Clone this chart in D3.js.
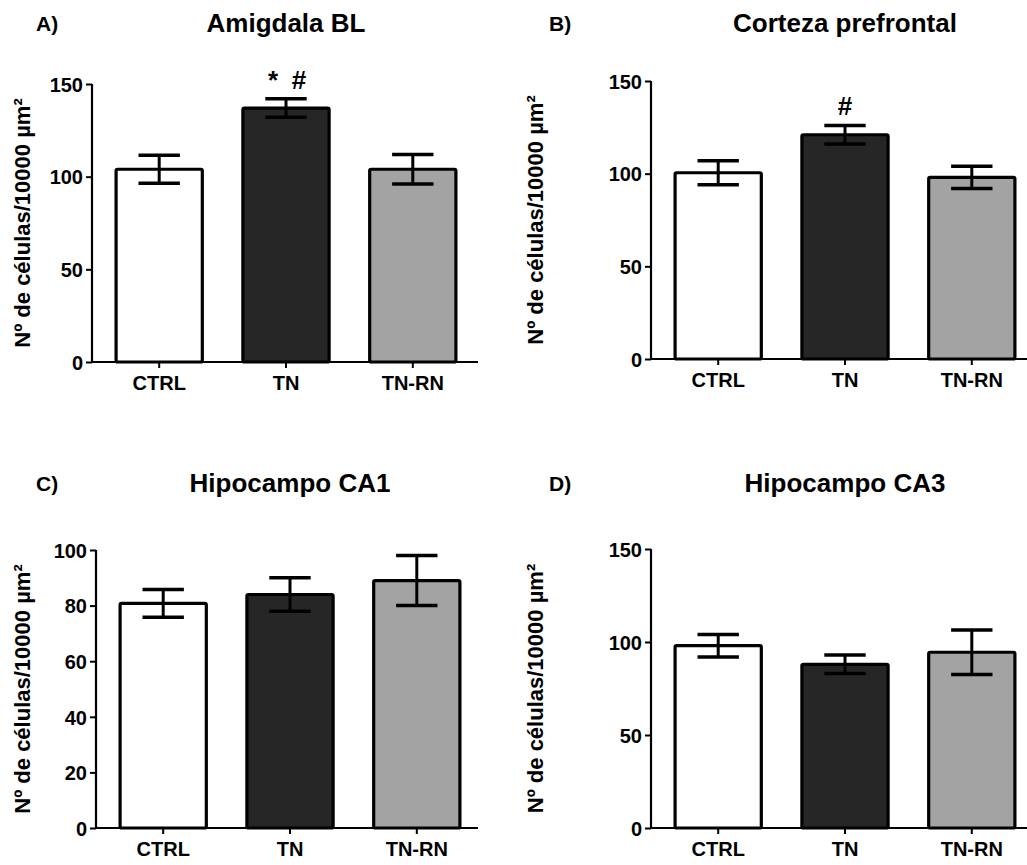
<!DOCTYPE html>
<html>
<head>
<meta charset="utf-8">
<script src="https://cdn.jsdelivr.net/npm/d3@7"></script>
<style>
  body { margin: 0; background: #fff; }
  svg text { font-family: "Liberation Sans", Arial, sans-serif; font-weight: bold; fill: #000; }
</style>
</head>
<body>
<div id="chart"></div>
<script>
// groups shared by all four panels
var groups = ["CTRL", "TN", "TN-RN"];
var groupFill = ["#ffffff", "#262626", "#a3a3a3"];

var panelLetters = ["A)", "B)", "C)", "D)"];
var panelTitles = ["Amigdala BL", "Corteza prefrontal", "Hipocampo CA1", "Hipocampo CA3"];

// mean values per panel (CTRL, TN, TN-RN)
var meansA = [104, 137, 104];
var meansB = [100.5, 121, 98];
var meansC = [80.8, 84, 89];
var meansD = [98, 88, 94.5];

// standard error per panel
var errA = [7.5, 5, 8];
var errB = [6.5, 5, 6];
var errC = [5, 6, 9];
var errD = [6, 5, 12];

// y axis maxima and tick values
var yMaxes = [150, 150, 100, 150];
var ticksA = [0, 50, 100, 150];
var ticksB = [0, 50, 100, 150];
var ticksC = [0, 20, 40, 60, 80, 100];
var ticksD = [0, 50, 100, 150];

// significance marks over the bars
var marksA = [[], ["*", "#"], []];
var marksB = [[], ["#"], []];
var marksC = [[], [], []];
var marksD = [[], [], []];

var yLabel = "Nº de células/10000 µm²";

var svg = d3.select("#chart").append("svg")
    .attr("width", 1027)
    .attr("height", 865);

// frame of each plot area: left axis x, right end, top (max), bottom (zero)
var frames = [
    {x0: 92, x1: 478, top: 84, bottom: 362, ox: 0, oy: 0},
    {x0: 651, x1: 1027, top: 81, bottom: 359, ox: 513, oy: 0},
    {x0: 96, x1: 478, top: 550, bottom: 828, ox: 0, oy: 460},
    {x0: 651, x1: 1027, top: 549, bottom: 828, ox: 513, oy: 460}
];

var means = [meansA, meansB, meansC, meansD];
var errs = [errA, errB, errC, errD];
var ticks = [ticksA, ticksB, ticksC, ticksD];
var marks = [marksA, marksB, marksC, marksD];

frames.forEach(function(f, p){
    var g = svg.append("g");

    var x = d3.scaleBand()
        .domain(groups)
        .range([f.x0, f.x0 + 388])
        .paddingInner(0.32)
        .paddingOuter(0.19);

    var y = d3.scaleLinear()
        .domain([0, yMaxes[p]])
        .range([f.bottom, f.top]);

    var data = groups.map(function(name, i){
        return {name: name, mean: means[p][i], err: errs[p][i], fill: groupFill[i], mark: marks[p][i]};
    });

    // bars
    g.selectAll("rect.bar").data(data).enter().append("rect")
        .attr("class", "bar")
        .attr("x", function(d){ return x(d.name); })
        .attr("y", function(d){ return y(d.mean); })
        .attr("width", x.bandwidth())
        .attr("height", function(d){ return y(0) - y(d.mean); })
        .attr("fill", function(d){ return d.fill; })
        .attr("stroke", "#000")
        .attr("stroke-width", 3.2)
        .attr("rx", 1.5);

    // error bars
    var cap = x.bandwidth() * 0.24;
    data.forEach(function(d){
        var cx = x(d.name) + x.bandwidth() / 2;
        g.append("line")
            .attr("x1", cx).attr("x2", cx)
            .attr("y1", y(d.mean - d.err)).attr("y2", y(d.mean + d.err))
            .attr("stroke", "#000").attr("stroke-width", 3);
        [d.mean - d.err, d.mean + d.err].forEach(function(v){
            g.append("line")
                .attr("x1", cx - cap).attr("x2", cx + cap)
                .attr("y1", y(v)).attr("y2", y(v))
                .attr("stroke", "#000").attr("stroke-width", 3.5);
        });
        // marks are spread around the bar centre
        var n = d.mark.length;
        d.mark.forEach(function(m, k){
            g.append("text")
                .attr("x", cx + (k - (n - 1) / 2) * 26)
                .attr("y", y(d.mean + d.err) - 10)
                .attr("text-anchor", "middle")
                .attr("font-size", 26)
                .text(m);
        });
    });

    // y axis
    var yAxis = g.append("g")
        .attr("transform", "translate(" + f.x0 + ",0)")
        .call(d3.axisLeft(y).tickValues(ticks[p]).tickSize(6).tickPadding(3).tickFormat(d3.format("d")));
    yAxis.select(".domain").attr("stroke-width", 2.2).attr("d", "M0," + (f.top) + "V" + (f.bottom));
    yAxis.selectAll(".tick line").attr("stroke-width", 2);
    yAxis.selectAll(".tick text").attr("font-size", 20).attr("dy", "0.36em");

    // x axis
    var xAxis = g.append("g")
        .attr("transform", "translate(0," + f.bottom + ")")
        .call(d3.axisBottom(x).tickSize(6).tickPadding(5));
    xAxis.select(".domain").attr("stroke-width", 2.2).attr("d", "M" + f.x0 + ",0H" + f.x1);
    xAxis.selectAll(".tick line").attr("stroke-width", 2);
    xAxis.selectAll(".tick text").attr("font-size", 20).attr("dy", "0.85em");

    // y label
    var ly = (f.top + f.bottom) / 2;
    g.append("text")
        .attr("transform", "translate(" + (f.ox + 30) + "," + ly + ") rotate(-90)")
        .attr("text-anchor", "middle")
        .attr("font-size", 22)
        .text(yLabel);

    // panel letter and title
    g.append("text")
        .attr("x", f.ox + 36)
        .attr("y", f.oy + 31)
        .attr("font-size", 21)
        .text(panelLetters[p]);
    g.append("text")
        .attr("x", (f.x0 + f.x0 + 388) / 2)
        .attr("y", f.oy + 32)
        .attr("text-anchor", "middle")
        .attr("font-size", 26)
        .text(panelTitles[p]);
});
</script>
</body>
</html>
